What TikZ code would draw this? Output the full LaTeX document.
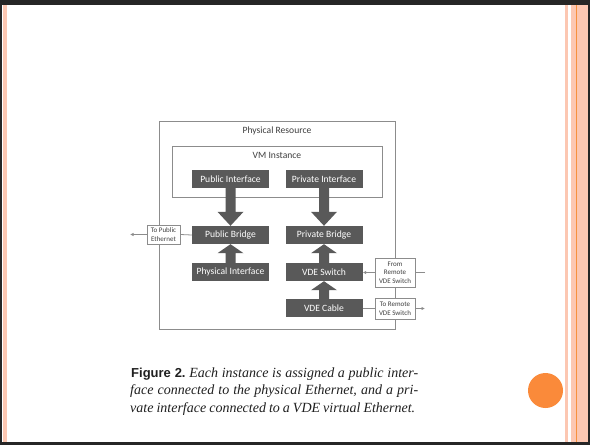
\documentclass[tikz,border=0pt]{standalone}
\usepackage{fontspec}
\setmainfont{Liberation Serif}
\newfontfamily\capsans{Liberation Sans}
\newfontfamily\boxfont{Carlito}
\usetikzlibrary{calc,arrows.meta}
\definecolor{darkbox}{HTML}{595959}
\definecolor{lineg}{HTML}{8C8C8C}
\definecolor{txtg}{HTML}{3F3F3F}
\definecolor{pinkst}{HTML}{FCC7B2}
\definecolor{orangeln}{HTML}{F7913D}
\definecolor{orangecirc}{HTML}{FA8A3A}
\newcommand\blkarrow[3]{%
  \fill[darkbox] ($(#1)+(-5,0)$) -- ($(#2)!#3pt!(#1)+(-5,0)$) -- ($(#2)!#3pt!(#1)+(-13,0)$)
   -- (#2) -- ($(#2)!#3pt!(#1)+(13,0)$) -- ($(#2)!#3pt!(#1)+(5,0)$) -- ($(#1)+(5,0)$) -- cycle;}
\begin{document}
\begin{tikzpicture}[x=1pt,y=-1pt,
  darkstep/.style={fill=darkbox,text=white,minimum width=77pt,minimum height=18pt,inner sep=0pt,font=\boxfont\fontsize{9.6}{10}\selectfont},
  smallbox/.style={draw=lineg,line width=0.8pt,fill=white,text=txtg,inner sep=0pt,align=center,font=\boxfont\fontsize{7}{8.7}\selectfont},
  frame/.style={draw=lineg,line width=0.8pt},
  conn/.style={draw=lineg,line width=0.8pt},
  tip/.style={-{Latex[length=3.5pt,width=3.5pt]},draw=lineg,line width=0.8pt}]
\useasboundingbox (0,0) rectangle (590,445);
% slide frame
\fill[white] (0,0) rectangle (590,445);
\fill[pinkst] (3,5) rectangle (7,442);
\fill[pinkst] (565,5) rectangle (568,442);
\fill[pinkst] (571,5) rectangle (588,442);
\fill[orangeln] (576,5) rectangle (577.3,442);
\fill[black!85] (0,0) rectangle (590,5);
\fill[black!85] (0,0) rectangle (2,445);
\fill[black!85] (0,442) rectangle (590,445);
\fill[black!85] (588,0) rectangle (590,445);
% diagram
\node[frame,minimum width=236pt,minimum height=208pt,inner sep=0pt] (phys) at (277,225) {};
\node[text=txtg,font=\boxfont\fontsize{9.6}{10}\selectfont,anchor=base] (physlbl) at (277,133) {Physical Resource};
\node[frame,minimum width=210pt,minimum height=51pt,inner sep=0pt] (vm) at (277,171.5) {};
\node[text=txtg,font=\boxfont\fontsize{9.6}{10}\selectfont,anchor=base] (vmlbl) at (277,158) {VM Instance};
\node[darkstep] (pubif) at (230.5,179) {Public Interface};
\node[darkstep] (privif) at (324,179) {Private Interface};
\node[darkstep] (pubbr) at (230.5,235) {Public Bridge};
\node[darkstep] (privbr) at (324,235) {Private Bridge};
\node[darkstep] (physif) at (230.5,272) {Physical Interface};
\node[darkstep] (vdesw) at (324,272) {VDE Switch};
\node[darkstep] (vdecab) at (324,308) {VDE Cable};
\blkarrow{pubif.south}{pubbr.north}{14}
\blkarrow{privif.south}{privbr.north}{14}
\blkarrow{physif.north}{pubbr.south}{9}
\blkarrow{vdesw.north}{privbr.south}{9}
\blkarrow{vdecab.north}{vdesw.south}{9}
\node[smallbox,minimum width=33pt,minimum height=19pt] (tpe) at (163.5,234.5) {To Public\\Ethernet};
\node[smallbox,minimum width=40pt,minimum height=29pt] (frs) at (395,272.5) {From\\Remote\\VDE Switch};
\node[smallbox,minimum width=40pt,minimum height=21pt] (trs) at (395,308.5) {To Remote\\VDE Switch};
\coordinate (pubeth) at (130,234.5);
\coordinate (remin) at (425,272.5);
\coordinate (remout) at (425,308.5);
\draw[conn] (pubbr.west) -- (tpe.east);
\draw[tip] (tpe.west) -- (pubeth);
\draw[conn] (remin) -- (frs.east);
\draw[tip] (frs.west) -- (frs.west -| vdesw.east);
\draw[conn] (vdecab.east) -- (vdecab.east -| trs.west);
\draw[tip] (trs.east) -- (remout);
% caption
\node[anchor=base west,inner sep=0pt,text=black!88] (cap1) at (131,377) {\makebox[287pt][s]{{\capsans\bfseries\fontsize{13}{17}\selectfont Figure 2.} \fontsize{14}{17}\selectfont\itshape Each instance is assigned a public inter-}};
\node[anchor=base west,inner sep=0pt,text=black!88] (cap2) at (130,394.5) {\fontsize{14}{17}\selectfont\itshape\makebox[288pt][s]{face connected to the physical Ethernet, and a pri-}};
\node[anchor=base west,inner sep=0pt,text=black!88] (cap3) at (130,412) {\fontsize{14}{17}\selectfont\itshape\makebox[285pt][s]{vate interface connected to a VDE virtual Ethernet.}};
\fill[orangecirc] (545.5,390.5) circle (17.5);
\end{tikzpicture}
\end{document}
